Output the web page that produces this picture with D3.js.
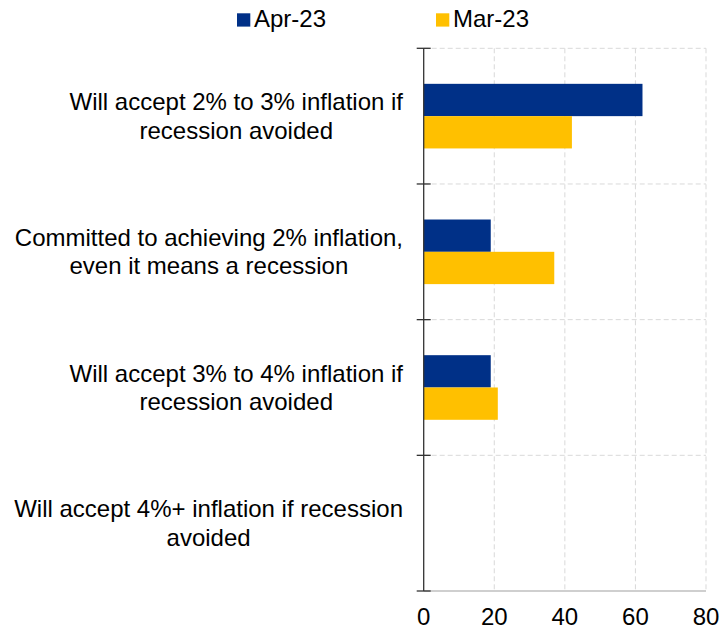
<!DOCTYPE html>
<html>
<head>
<meta charset="utf-8">
<script src="https://cdn.jsdelivr.net/npm/d3@7"></script>
<style>
  body { margin: 0; background: #fff; }
  text { font-family: "Liberation Sans", Arial, sans-serif; fill: #000; }
</style>
</head>
<body>
<script>
// data
const categories = [
    ["Will accept 2% to 3% inflation if", "recession avoided"],
    ["Committed to achieving 2% inflation,", "even it means a recession"],
    ["Will accept 3% to 4% inflation if", "recession avoided"],
    ["Will accept 4%+ inflation if recession", "avoided"]
];
const seriesNames = ["Apr-23", "Mar-23"];
const apr23 = [62, 19, 19, 0];
const mar23 = [42, 37, 21, 0];
const xTicks = [0, 20, 40, 60, 80];
const colors = ["#003087", "#FFC000"];

const width = 720, height = 630;
const margin = { top: 48.3, right: 14, bottom: 39, left: 423.7 };
const fontSize = "24px";

const svg = d3.select("body").append("svg")
    .attr("width", width)
    .attr("height", height);

const x = d3.scaleLinear()
    .domain([0, 80])
    .range([margin.left, width - margin.right]);

const y = d3.scaleBand()
    .domain(d3.range(categories.length))
    .range([margin.top, height - margin.bottom]);

const inner = d3.scaleBand()
    .domain(seriesNames)
    .range([0, y.bandwidth()])
    .paddingOuter(1.1)
    .paddingInner(0);

// grid
const grid = svg.append("g");
grid.selectAll(".vgrid")
    .data(xTicks.slice(1))
    .enter().append("line")
    .attr("x1", d => x(d)).attr("x2", d => x(d))
    .attr("y1", margin.top).attr("y2", height - margin.bottom)
    .attr("stroke", "#d9d9d9")
    .attr("stroke-dasharray", "5,3");

grid.selectAll(".hgrid")
    .data(d3.range(categories.length))
    .enter().append("line")
    .attr("x1", x(0)).attr("x2", x(80))
    .attr("y1", d => y(d)).attr("y2", d => y(d))
    .attr("stroke", "#d9d9d9")
    .attr("stroke-dasharray", "5,3");

// bars
const seriesData = [apr23, mar23];
seriesData.forEach((vals, s) => {
    svg.selectAll(".bar" + s)
        .data(vals)
        .enter().append("rect")
        .attr("x", x(0))
        .attr("y", (d, i) => y(i) + inner(seriesNames[s]))
        .attr("width", d => x(d) - x(0))
        .attr("height", inner.bandwidth())
        .attr("fill", colors[s]);
});

// bottom axis line
svg.append("line")
    .attr("x1", x(0)).attr("x2", x(80))
    .attr("y1", height - margin.bottom).attr("y2", height - margin.bottom)
    .attr("stroke", "#bfbfbf")
    .attr("stroke-width", 1.5);

// x tick labels
svg.selectAll(".xlabel")
    .data(xTicks)
    .enter().append("text")
    .attr("x", d => x(d))
    .attr("y", 624.8)
    .attr("text-anchor", "middle")
    .style("font-size", fontSize)
    .text(d => d);

// left axis
svg.append("line")
    .attr("x1", x(0)).attr("x2", x(0))
    .attr("y1", margin.top).attr("y2", height - margin.bottom)
    .attr("stroke", "#333")
    .attr("stroke-width", 1.3);

const bounds = d3.range(categories.length + 1).map(i =>
    i < categories.length ? y(i) : y(i - 1) + y.bandwidth());
svg.selectAll(".ytick")
    .data(bounds)
    .enter().append("line")
    .attr("x1", x(0) - 7).attr("x2", x(0) + 7)
    .attr("y1", d => d).attr("y2", d => d)
    .attr("stroke", "#333")
    .attr("stroke-width", 1.3);

// category labels: block right-aligned, lines centred within
const labelRight = 403;
const lineH = 28.3;
categories.forEach((lines, i) => {
    const g = svg.append("g");
    const texts = lines.map(l => g.append("text")
        .style("font-size", fontSize)
        .attr("text-anchor", "middle")
        .text(l));
    const maxW = d3.max(texts, t => t.node().getComputedTextLength());
    const cx = labelRight - maxW / 2;
    const cy = y(i) + y.bandwidth() / 2;
    texts.forEach((t, k) => {
        t.attr("x", cx)
         .attr("y", cy + (k - (lines.length - 1) / 2) * lineH)
         .attr("dy", "0.35em");
    });
});

// legend
const legendX = [237, 436];
seriesNames.forEach((name, s) => {
    svg.append("rect")
        .attr("x", legendX[s]).attr("y", 13.3)
        .attr("width", 13.3).attr("height", 13.3)
        .attr("fill", colors[s]);
    svg.append("text")
        .attr("x", legendX[s] + 17)
        .attr("y", 27.3)
        .style("font-size", fontSize)
        .text(name);
});
</script>
</body>
</html>
